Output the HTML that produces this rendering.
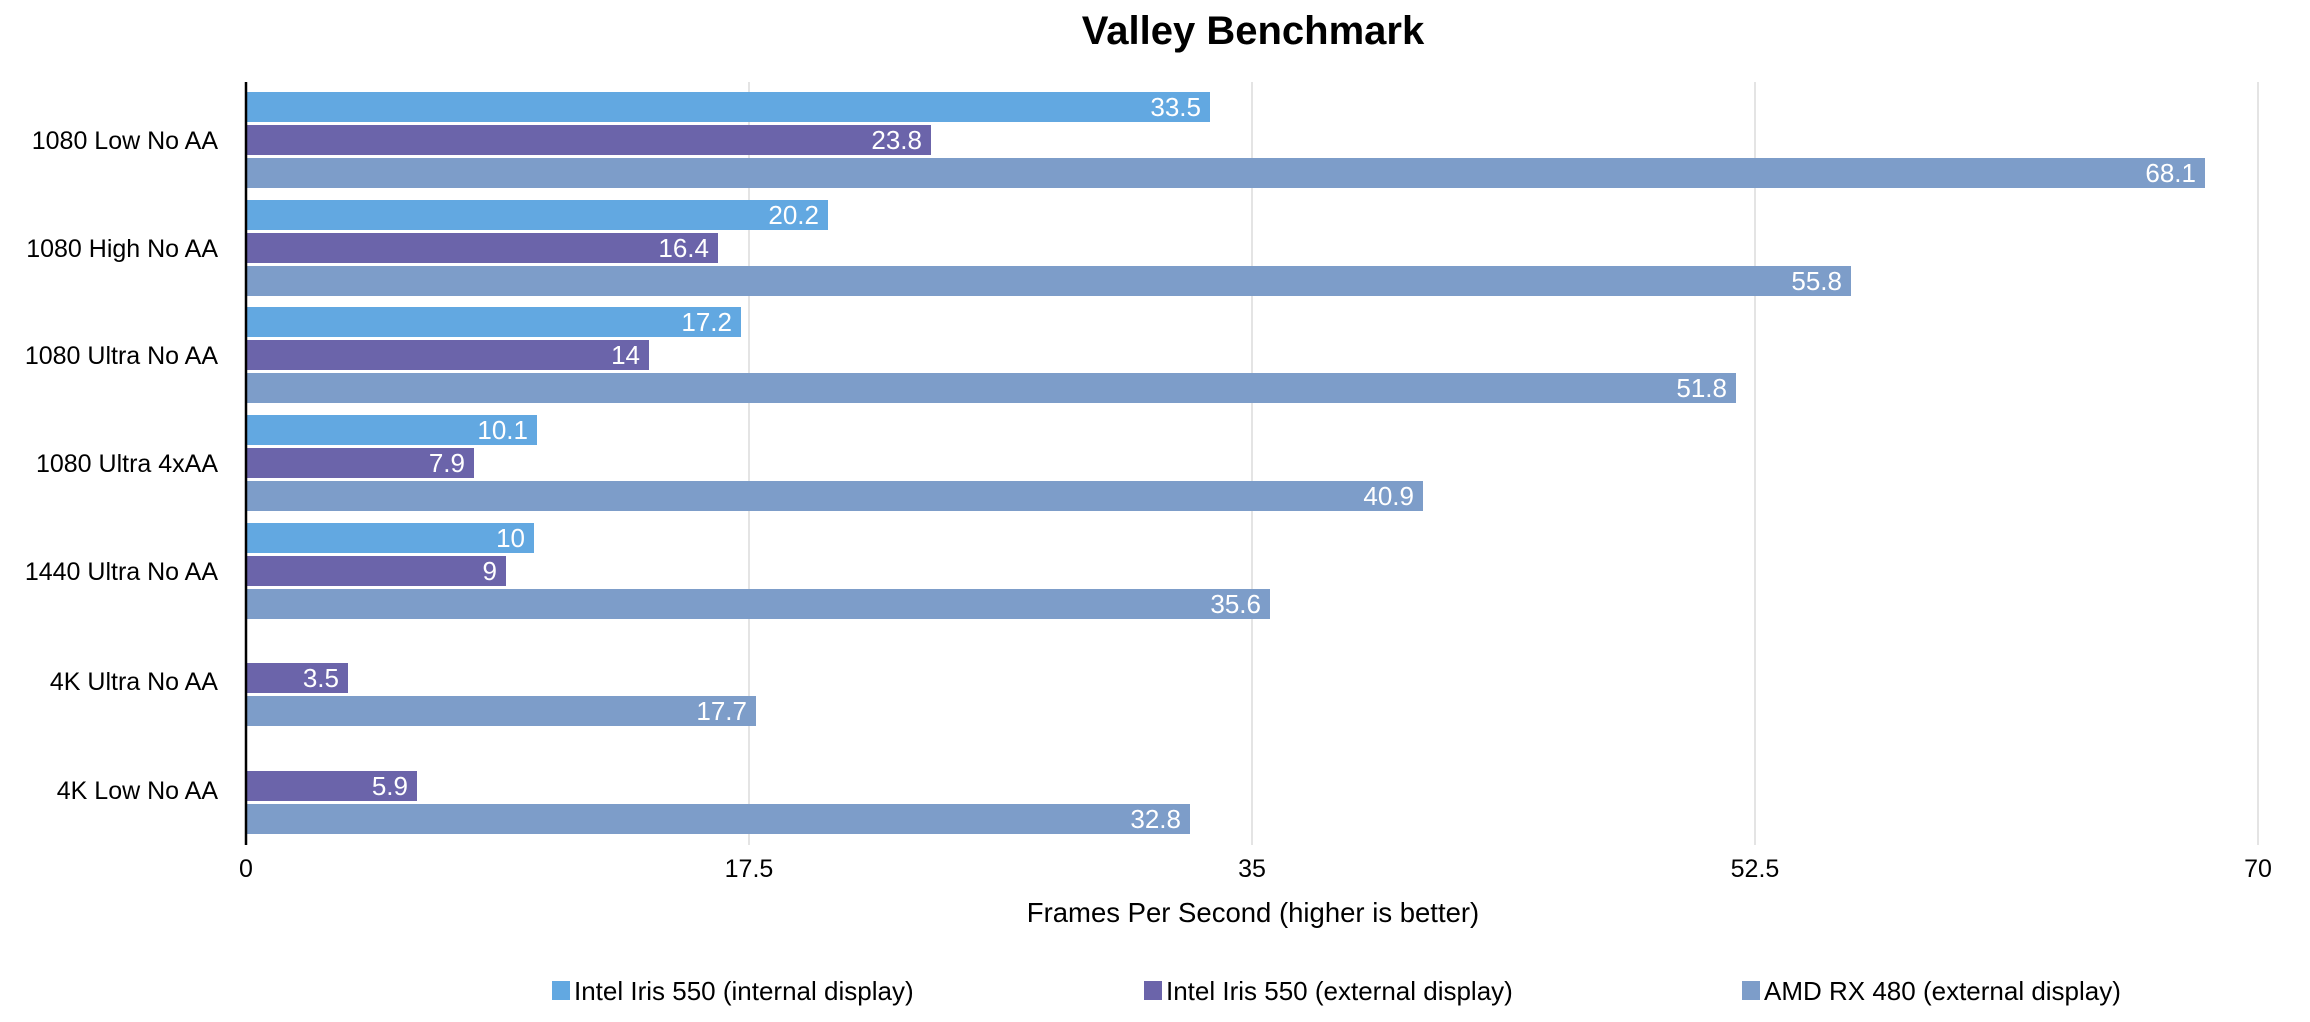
<!DOCTYPE html>
<html><head><meta charset="utf-8"><style>html,body{margin:0;padding:0;background:#fff}svg{display:block}text{font-family:"Liberation Sans",sans-serif}</style></head>
<body>
<svg width="2310" height="1022" xmlns="http://www.w3.org/2000/svg">
<rect width="2310" height="1022" fill="#fff"/>
<text x="1253" y="44" font-size="40" font-weight="bold" text-anchor="middle" fill="#000">Valley Benchmark</text>
<g stroke="#dcdcdc" stroke-width="1.5">
<line x1="749" y1="82" x2="749" y2="845"/>
<line x1="1252" y1="82" x2="1252" y2="845"/>
<line x1="1755" y1="82" x2="1755" y2="845"/>
<line x1="2258" y1="82" x2="2258" y2="845"/>
</g>
<g fill="#fff" font-size="26" text-anchor="end">
<rect x="247" y="92" width="963" height="30" fill="#62A8E1"/><text x="1201" y="116">33.5</text>
<rect x="247" y="125" width="684" height="30" fill="#6B64AA"/><text x="922" y="149">23.8</text>
<rect x="247" y="158" width="1958" height="30" fill="#7D9DC9"/><text x="2196" y="182">68.1</text>

<rect x="247" y="200" width="581" height="30" fill="#62A8E1"/><text x="819" y="224">20.2</text>
<rect x="247" y="233" width="471" height="30" fill="#6B64AA"/><text x="709" y="257">16.4</text>
<rect x="247" y="266" width="1604" height="30" fill="#7D9DC9"/><text x="1842" y="290">55.8</text>

<rect x="247" y="307" width="494" height="30" fill="#62A8E1"/><text x="732" y="331">17.2</text>
<rect x="247" y="340" width="402" height="30" fill="#6B64AA"/><text x="640" y="364">14</text>
<rect x="247" y="373" width="1489" height="30" fill="#7D9DC9"/><text x="1727" y="397">51.8</text>

<rect x="247" y="415" width="290" height="30" fill="#62A8E1"/><text x="528" y="439">10.1</text>
<rect x="247" y="448" width="227" height="30" fill="#6B64AA"/><text x="465" y="472">7.9</text>
<rect x="247" y="481" width="1176" height="30" fill="#7D9DC9"/><text x="1414" y="505">40.9</text>

<rect x="247" y="523" width="287" height="30" fill="#62A8E1"/><text x="525" y="547">10</text>
<rect x="247" y="556" width="259" height="30" fill="#6B64AA"/><text x="497" y="580">9</text>
<rect x="247" y="589" width="1023" height="30" fill="#7D9DC9"/><text x="1261" y="613">35.6</text>

<rect x="247" y="663" width="101" height="30" fill="#6B64AA"/><text x="339" y="687">3.5</text>
<rect x="247" y="696" width="509" height="30" fill="#7D9DC9"/><text x="747" y="720">17.7</text>

<rect x="247" y="771" width="170" height="30" fill="#6B64AA"/><text x="408" y="795">5.9</text>
<rect x="247" y="804" width="943" height="30" fill="#7D9DC9"/><text x="1181" y="828">32.8</text>
</g>
<line x1="246" y1="82" x2="246" y2="845" stroke="#000" stroke-width="2.5"/>
<g fill="#000" font-size="25" text-anchor="end">
<text x="218" y="149">1080 Low No AA</text>
<text x="218" y="257">1080 High No AA</text>
<text x="218" y="364">1080 Ultra No AA</text>
<text x="218" y="472">1080 Ultra 4xAA</text>
<text x="218" y="580">1440 Ultra No AA</text>
<text x="218" y="690">4K Ultra No AA</text>
<text x="218" y="799">4K Low No AA</text>
</g>
<g fill="#000" font-size="25" text-anchor="middle">
<text x="246" y="877">0</text>
<text x="749" y="877">17.5</text>
<text x="1252" y="877">35</text>
<text x="1755" y="877">52.5</text>
<text x="2258" y="877">70</text>
<text x="1253" y="922" font-size="27.5">Frames Per Second (higher is better)</text>
</g>
<g font-size="26" fill="#000">
<rect x="552" y="981" width="18" height="19" fill="#62A8E1"/><text x="574" y="1000">Intel Iris 550 (internal display)</text>
<rect x="1144" y="981" width="18" height="19" fill="#6B64AA"/><text x="1166" y="1000">Intel Iris 550 (external display)</text>
<rect x="1742" y="981" width="18" height="19" fill="#7D9DC9"/><text x="1764" y="1000">AMD RX 480 (external display)</text>
</g>
</svg>
</body></html>
